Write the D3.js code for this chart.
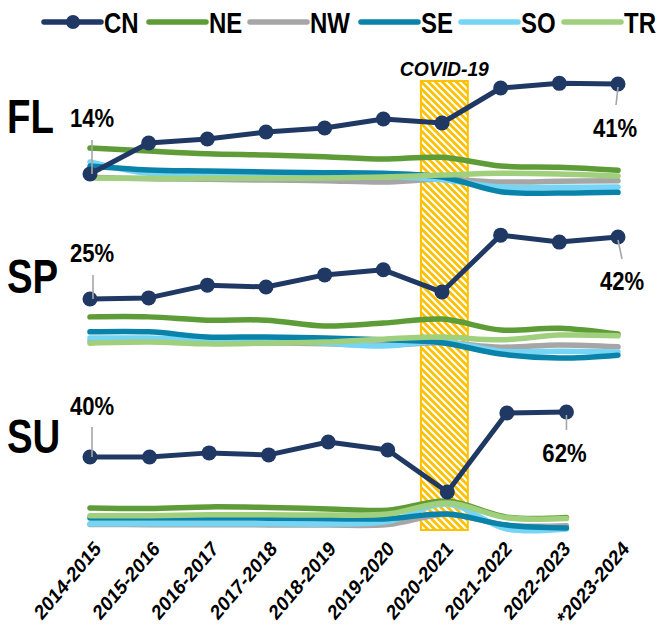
<!DOCTYPE html>
<html>
<head>
<meta charset="utf-8">
<script src="https://cdn.jsdelivr.net/npm/d3@7"></script>
<style>
  body { margin: 0; background: #fff; }
  svg { display: block; }
  text { font-family: "Liberation Sans", Arial, Helvetica, sans-serif; font-weight: bold; fill: #000; }
</style>
</head>
<body>
<svg id="chart" width="660" height="632"></svg>
<script>
// School years on the horizontal axis
const years = ["2014-2015","2015-2016","2016-2017","2017-2018","2018-2019",
               "2019-2020","2020-2021","2021-2022","2022-2023","*2023-2024"];
const regions = ["CN","NE","NW","SE","SO","TR"];
const regionColors = ["#203864","#5e9c37","#a6a6a6","#0a83aa","#76d4f5","#a0cf7d"];
const covidYear = "2020-2021";
const covidLabel = "COVID-19";

// FL (%)
const flCN = [14, 23.3, 24.5, 26.6, 27.8, 30.5, 29.3, 39.8, 41.2, 41];
const flNE = [21.8, 20.9, 20.1, 19.7, 19.2, 18.5, 19.0, 16.4, 16.0, 15.1];
const flNW = [13.0, 12.6, 12.4, 12.2, 12.0, 11.6, 12.4, 11.6, 11.8, 12.0];
const flSE = [16.4, 15.2, 14.9, 14.6, 14.4, 14.2, 13.1, 8.7, 8.3, 8.5];
const flSO = [17.6, 14.2, 14.0, 13.8, 13.6, 13.3, 12.3, 10.1, 10.0, 10.1];
const flTR = [12.8, 12.7, 12.7, 12.7, 12.8, 13.1, 13.7, 14.2, 14.0, 13.4];

// SP (%)
const spCN = [25, 25.3, 28.8, 28.3, 31.6, 33.0, 26.9, 42.5, 40.6, 42];
const spNE = [20.1, 20.1, 19.2, 19.2, 17.6, 18.4, 19.5, 16.5, 17.0, 15.4];
const spNW = [13.5, 13.5, 13.2, 13.0, 12.7, 12.3, 13.0, 11.8, 12.4, 11.9];
const spSE = [16.0, 16.0, 14.6, 14.6, 14.3, 13.8, 13.0, 9.9, 8.8, 9.6];
const spSO = [14.3, 14.3, 13.8, 13.5, 12.9, 12.1, 13.3, 10.7, 10.7, 10.5];
const spTR = [12.9, 13.2, 12.7, 12.9, 13.2, 14.0, 14.6, 13.8, 15.1, 14.9];

// SU (%), no value yet for the last year
const suCN = [40, 40, 42.0, 41.0, 47.3, 43.4, 22.9, 61.5, 62];
const suNE = [15.1, 14.8, 15.6, 15.3, 14.6, 14.0, 18.5, 10.6, 10.4];
const suNW = [7.0, 6.9, 6.9, 6.8, 6.7, 7.0, 12.0, 6.6, 6.4];
const suSE = [10.2, 10.2, 10.2, 10.1, 9.8, 9.8, 12.1, 6.7, 5.3];
const suSO = [7.3, 7.3, 7.3, 7.3, 7.2, 8.4, 17.0, 4.8, 4.8];
const suTR = [11.3, 11.3, 11.7, 11.7, 11.6, 12.1, 17.5, 10.3, 9.9];

const svg = d3.select("#chart");
const squish = 0.8; // text is drawn horizontally condensed

const xMain = d3.scalePoint().domain(years).range([90, 618]);
const xSU = d3.scalePoint().domain(years).range([90, 626]);

const panels = [
  { name: "FL", nameY: 133, x: xMain,
    y: d3.scaleLinear().domain([0, 50]).range([220.7, 54.0]),
    series: [flCN, flNE, flNW, flSE, flSO, flTR],
    first: { lead: [2, -34, 2, 0], text: [2, -47] },
    last:  { lead: [0, 3, -2, 21], text: [-3, 53] } },
  { name: "SP", nameY: 293, x: xMain,
    y: d3.scaleLinear().domain([0, 50]).range([390.2, 207.8]),
    series: [spCN, spNE, spNW, spSE, spSO, spTR],
    first: { lead: [3, -24, 3, 0], text: [2, -37] },
    last:  { lead: [0, 3, 4, 22], text: [4, 53] } },
  { name: "SU", nameY: 453, x: xSU,
    y: d3.scaleLinear().domain([0, 70]).range([538.8, 395.6]),
    series: [suCN, suNE, suNW, suSE, suSO, suTR],
    first: { lead: [2, -30, 2, 0], text: [2, -42] },
    last:  { lead: [0, 3, 0, 18], text: [-2, 50] } }
];

// Hatch fill for the COVID-19 period
const defs = svg.append("defs");
const pat = defs.append("pattern").attr("id", "hatch")
  .attr("patternUnits", "userSpaceOnUse").attr("width", 7).attr("height", 7);
pat.append("rect").attr("width", 7).attr("height", 7).attr("fill", "#ffc000");
pat.append("path").attr("d", "M-1,-1 L8,8 M-1,6 L1,8 M6,-1 L8,1")
  .attr("stroke", "#fff").attr("stroke-width", 2.2);

const step = xMain.step();
const bandX = xMain(covidYear) - step * 0.36;
svg.append("rect")
  .attr("x", bandX).attr("y", 81)
  .attr("width", step * 0.8).attr("height", 449)
  .attr("fill", "url(#hatch)").attr("stroke", "#ffc000").attr("stroke-width", 2);

svg.append("text")
  .attr("transform", `translate(${bandX + step * 0.4},76) scale(0.92,1)`)
  .attr("text-anchor", "middle").attr("font-style", "italic")
  .attr("font-size", 21).text(covidLabel);

// Draw order: CN last so its markers sit on top
const drawOrder = [1, 2, 4, 3, 5];

panels.forEach(p => {
  svg.append("text")
    .attr("transform", `translate(7,${p.nameY}) scale(${squish},1)`)
    .attr("font-size", 48).text(p.name);

  const g = svg.append("g");
  drawOrder.forEach(si => {
    const vals = p.series[si];
    const line = d3.line()
      .x((d, i) => p.x(years[i])).y(d => p.y(d))
      .curve(d3.curveCatmullRom.alpha(0.5));
    g.append("path").datum(vals).attr("d", line)
      .attr("fill", "none").attr("stroke", regionColors[si])
      .attr("stroke-width", 5.5).attr("stroke-linecap", "round")
      .attr("stroke-linejoin", "round");
  });

  const cn = p.series[0];
  const cnLine = d3.line().x((d, i) => p.x(years[i])).y(d => p.y(d));
  g.append("path").datum(cn).attr("d", cnLine)
    .attr("fill", "none").attr("stroke", regionColors[0])
    .attr("stroke-width", 5).attr("stroke-linejoin", "round");
  g.selectAll("circle").data(cn).join("circle")
    .attr("cx", (d, i) => p.x(years[i])).attr("cy", d => p.y(d))
    .attr("r", 7.5).attr("fill", regionColors[0]);

  // First and last CN values
  [[0, p.first], [cn.length - 1, p.last]].forEach(([i, a]) => {
    const px = p.x(years[i]), py = p.y(cn[i]);
    g.append("line")
      .attr("x1", px + a.lead[0]).attr("y1", py + a.lead[1])
      .attr("x2", px + a.lead[2]).attr("y2", py + a.lead[3])
      .attr("stroke", "#a6a6a6").attr("stroke-width", 1.6);
    g.append("text")
      .attr("transform", `translate(${px + a.text[0]},${py + a.text[1]}) scale(0.85,1)`)
      .attr("text-anchor", "middle").attr("font-size", 26)
      .text(`${cn[i]}%`);
  });
});

// Year labels along the bottom
svg.append("g").selectAll("text").data(years).join("text")
  .attr("transform", d => `translate(${xMain(d) + 12},550) scale(0.85,1) rotate(-45)`)
  .attr("text-anchor", "end").attr("font-size", 21).text(d => d);

// Legend
const legendX = [44, 149, 250, 361, 461, 564];
const lg = svg.append("g");
regions.forEach((r, i) => {
  const x0 = legendX[i];
  lg.append("line").attr("x1", x0).attr("x2", x0 + 57)
    .attr("y1", 22).attr("y2", 22)
    .attr("stroke", regionColors[i]).attr("stroke-width", 5.5)
    .attr("stroke-linecap", "round");
  if (i === 0) {
    lg.append("circle").attr("cx", x0 + 29).attr("cy", 22).attr("r", 7)
      .attr("fill", regionColors[0]);
  }
  lg.append("text")
    .attr("transform", `translate(${x0 + 60},33) scale(${squish},1)`)
    .attr("font-size", 30).text(r);
});
</script>
</body>
</html>
